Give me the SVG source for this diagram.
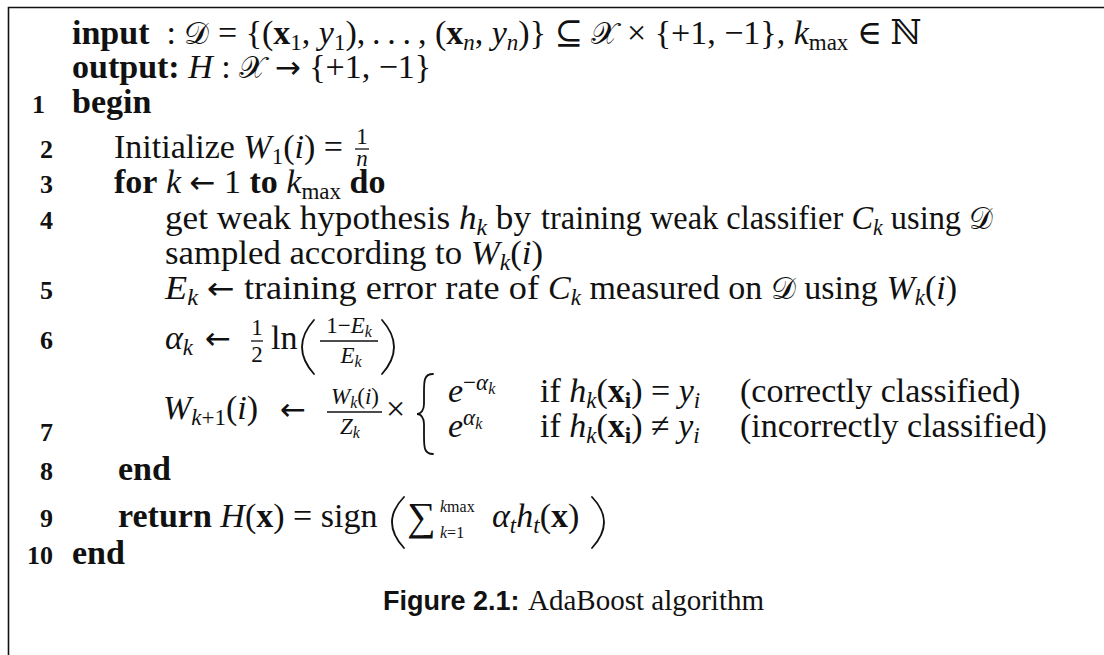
<svg xmlns="http://www.w3.org/2000/svg" width="1104" height="655" viewBox="0 0 1104 655">
  <style>
    text { font-family: "Liberation Serif", "DejaVu Serif", serif; font-size: 34px; fill: #111; }
    .b { font-weight: bold; }
    .i { font-style: italic; }
    .s { font-size: 23px; }
    .ss { font-size: 16px; }
    .num { font-weight: bold; font-size: 26px; text-anchor: end; }
    .cal { font-family: "DejaVu Sans", "Noto Sans", serif; font-size: 31px; }
    .arr { font-family: "DejaVu Sans", sans-serif; font-size: 31px; }
    .mid { text-anchor: middle; }
    .capb { font-family: "Liberation Sans", sans-serif; font-weight: bold; font-size: 27px; }
    .cap { font-size: 29px; }
    .rule { stroke: #111; stroke-width: 1.6; fill: none; }
    .bar { stroke: #111; stroke-width: 1.3; }
    .delim { stroke: #111; stroke-width: 1.8; fill: none; stroke-linecap: round; }
  </style>

  <!-- algorithm frame: top and left rules -->
  <path class="rule" d="M8.5 655 V7.5 H1104"/>

  <!-- header -->
  <g id="header">
    <text x="72" y="44"><tspan class="b">input</tspan>&#160;&#160;: <tspan class="cal">𝒟</tspan> = {(<tspan class="b">x</tspan><tspan class="s" dy="6">1</tspan><tspan dy="-6">, </tspan><tspan class="i">y</tspan><tspan class="s" dy="6">1</tspan><tspan dy="-6">),&#8201;.&#8201;.&#8201;.&#8201;, (</tspan><tspan class="b">x</tspan><tspan class="s i" dy="6">n</tspan><tspan dy="-6">, </tspan><tspan class="i">y</tspan><tspan class="s i" dy="6">n</tspan><tspan dy="-6">)} ⊆ </tspan><tspan class="cal">𝒳</tspan> × {+1, −1}, <tspan class="i">k</tspan><tspan class="s" dy="6">max</tspan><tspan dy="-6"> ∈ ℕ</tspan></text>
    <text x="72" y="78"><tspan class="b">output:</tspan> <tspan class="i">H</tspan> : <tspan class="cal">𝒳</tspan> <tspan class="arr">→</tspan> {+1, −1}</text>
  </g>

  <g id="line1">
    <text class="num" x="45" y="113">1</text>
    <text class="b" x="72" y="113">begin</text>
  </g>

  <g id="line2">
    <text class="num" x="53" y="158">2</text>
    <text x="114" y="158">Initialize <tspan class="i">W</tspan><tspan class="s" dy="6">1</tspan><tspan dy="-6">(</tspan><tspan class="i">i</tspan>) =</text>
    <text class="s mid" x="362" y="144">1</text>
    <line class="bar" x1="355" y1="149" x2="369" y2="149"/>
    <text class="s i mid" x="362" y="166">n</text>
  </g>

  <g id="line3">
    <text class="num" x="53" y="193">3</text>
    <text x="114" y="193"><tspan class="b">for</tspan> <tspan class="i">k</tspan> <tspan class="arr">←</tspan> 1 <tspan class="b">to</tspan> <tspan class="i">k</tspan><tspan class="s" dy="6">max</tspan><tspan dy="-6"> </tspan><tspan class="b">do</tspan></text>
  </g>

  <g id="line4">
    <text class="num" x="53" y="229">4</text>
    <text x="165" y="229" textLength="366" lengthAdjust="spacingAndGlyphs">get weak hypothesis <tspan class="i">h</tspan><tspan class="s i" dy="6">k</tspan><tspan dy="-6"> by</tspan></text>
    <text x="541" y="229" textLength="452" lengthAdjust="spacingAndGlyphs">training weak classifier <tspan class="i">C</tspan><tspan class="s i" dy="6">k</tspan><tspan dy="-6"> using </tspan><tspan class="cal">𝒟</tspan></text>
    <text x="165" y="264" textLength="378" lengthAdjust="spacingAndGlyphs">sampled according to <tspan class="i">W</tspan><tspan class="s i" dy="6">k</tspan><tspan dy="-6">(</tspan><tspan class="i">i</tspan>)</text>
  </g>

  <g id="line5">
    <text class="num" x="53" y="299">5</text>
    <text x="165" y="299" textLength="374" lengthAdjust="spacingAndGlyphs"><tspan class="i">E</tspan><tspan class="s i" dy="6">k</tspan><tspan dy="-6"> </tspan><tspan class="arr">←</tspan> training error rate of</text>
    <text x="548" y="299"><tspan class="i">C</tspan><tspan class="s i" dy="6">k</tspan><tspan dy="-6"> measured on </tspan><tspan class="cal">𝒟</tspan> using <tspan class="i">W</tspan><tspan class="s i" dy="6">k</tspan><tspan dy="-6">(</tspan><tspan class="i">i</tspan>)</text>
  </g>

  <g id="line6">
    <text class="num" x="53" y="349">6</text>
    <text x="165" y="349"><tspan class="i">α</tspan><tspan class="s i" dy="6">k</tspan></text>
    <text class="arr" x="205" y="349">←</text>
    <text class="s mid" x="257" y="335">1</text>
    <line class="bar" x1="251" y1="341" x2="263" y2="341"/>
    <text class="s mid" x="257" y="362">2</text>
    <text x="271" y="349">ln</text>
    <path class="delim" d="M314 320 Q290 347 314 374"/>
    <text class="s mid" x="349" y="333">1−<tspan class="i">E</tspan><tspan class="ss i" dy="4">k</tspan></text>
    <line class="bar" x1="320" y1="341" x2="378" y2="341"/>
    <text class="s mid" x="351" y="363"><tspan class="i">E</tspan><tspan class="ss i" dy="4">k</tspan></text>
    <path class="delim" d="M382 320 Q406 347 382 374"/>
  </g>

  <g id="line7">
    <text class="num" x="53" y="441">7</text>
    <text x="163" y="419"><tspan class="i">W</tspan><tspan class="s i" dy="6">k</tspan><tspan class="s">+1</tspan><tspan dy="-6">(</tspan><tspan class="i">i</tspan>)</text>
    <text class="arr" x="280" y="420">←</text>
    <text class="s mid" x="355" y="404"><tspan class="i">W</tspan><tspan class="ss i" dy="4">k</tspan><tspan dy="-4">(</tspan><tspan class="i">i</tspan>)</text>
    <line class="bar" x1="327" y1="412" x2="382" y2="412"/>
    <text class="s mid" x="350" y="434"><tspan class="i">Z</tspan><tspan class="ss i" dy="4">k</tspan></text>
    <text x="386" y="420">×</text>
    <path class="delim" d="M433 374 C424 374 424 381 424 392 L424 404 C424 410 421 414 417 414 C421 414 424 418 424 424 L424 436 C424 447 424 454 433 454"/>
    <text x="448" y="402"><tspan class="i">e</tspan><tspan class="s" dy="-12">−</tspan><tspan class="s i">α</tspan><tspan class="ss i" dy="4">k</tspan></text>
    <text x="448" y="437"><tspan class="i">e</tspan><tspan class="s i" dy="-12">α</tspan><tspan class="ss i" dy="4">k</tspan></text>
    <text x="540" y="402">if <tspan class="i">h</tspan><tspan class="s i" dy="6">k</tspan><tspan dy="-6">(</tspan><tspan class="b">x</tspan><tspan class="s b" dy="6">i</tspan><tspan dy="-6">) = </tspan><tspan class="i">y</tspan><tspan class="s i" dy="6">i</tspan></text>
    <text x="540" y="437">if <tspan class="i">h</tspan><tspan class="s i" dy="6">k</tspan><tspan dy="-6">(</tspan><tspan class="b">x</tspan><tspan class="s b" dy="6">i</tspan><tspan dy="-6">) ≠ </tspan><tspan class="i">y</tspan><tspan class="s i" dy="6">i</tspan></text>
    <text x="740" y="402">(correctly classified)</text>
    <text x="740" y="437">(incorrectly classified)</text>
  </g>

  <g id="line8">
    <text class="num" x="53" y="480">8</text>
    <text class="b" x="118" y="480">end</text>
  </g>

  <g id="line9">
    <text class="num" x="53" y="527">9</text>
    <text x="118" y="527"><tspan class="b">return</tspan> <tspan class="i">H</tspan>(<tspan class="b">x</tspan>) = sign</text>
    <path class="delim" d="M404 497 Q380 522 404 548"/>
    <text x="407" y="530" style="font-size:40px">∑</text>
    <text class="ss" x="440" y="512"><tspan class="i">k</tspan>max</text>
    <text class="ss" x="440" y="538"><tspan class="i">k</tspan>=1</text>
    <text x="492" y="527"><tspan class="i">α</tspan><tspan class="s i" dy="6">t</tspan><tspan class="i" dy="-6">h</tspan><tspan class="s i" dy="6">t</tspan><tspan dy="-6">(</tspan><tspan class="b">x</tspan>)</text>
    <path class="delim" d="M592 497 Q616 522 592 548"/>
  </g>

  <g id="line10">
    <text class="num" x="53" y="564">10</text>
    <text class="b" x="72" y="564">end</text>
  </g>

  <g id="caption">
    <text x="383" y="610"><tspan class="capb">Figure 2.1:</tspan> <tspan class="cap">AdaBoost algorithm</tspan></text>
  </g>
</svg>
